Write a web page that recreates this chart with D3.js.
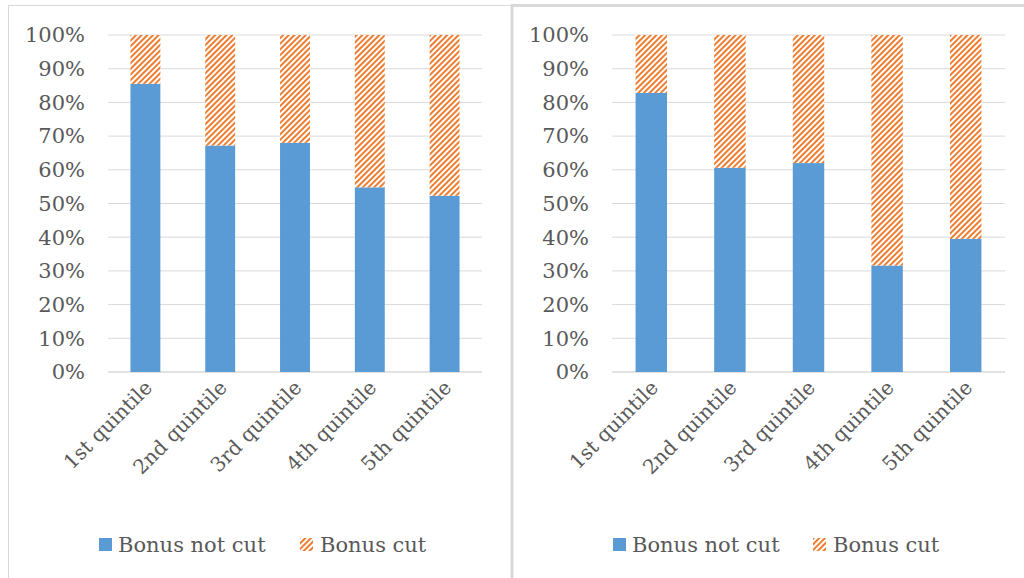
<!DOCTYPE html>
<html>
<head>
<meta charset="utf-8">
<script src="https://cdn.jsdelivr.net/npm/d3@7"></script>
<style>
  body { margin: 0; background: #fff; }
  svg text { font-family: "DejaVu Serif", serif; fill: #595959; }
</style>
</head>
<body>
<div id="chart"></div>
<script>
// categories and values (share of bonuses not cut, in %)
const quintiles = ["1st quintile", "2nd quintile", "3rd quintile", "4th quintile", "5th quintile"];
const leftNotCut = [85.5, 67.2, 68.0, 54.8, 52.3];
const rightNotCut = [82.8, 60.6, 62.0, 31.6, 39.5];
const yTicks = [0, 10, 20, 30, 40, 50, 60, 70, 80, 90, 100];
const seriesNames = ["Bonus not cut", "Bonus cut"];

const width = 1024, height = 578;
const blue = "#5b9bd5", orange = "#ed7d31";

const svg = d3.select("#chart").append("svg")
  .attr("width", width)
  .attr("height", height);

// stripe pattern for "Bonus cut"
const pat = svg.append("defs").append("pattern")
  .attr("id", "stripes")
  .attr("patternUnits", "userSpaceOnUse")
  .attr("width", 4)
  .attr("height", 4)
  .attr("patternTransform", "rotate(45)");
pat.append("rect").attr("width", 4).attr("height", 4).attr("fill", "#fff");
pat.append("rect").attr("x", 0).attr("width", 2).attr("height", 4).attr("fill", orange);

// panel frames
svg.append("rect").attr("x", 8.5).attr("y", 5.5).attr("width", 503).attr("height", 580)
  .attr("fill", "none").attr("stroke", "#d9d9d9").attr("stroke-width", 1);
svg.append("rect").attr("x", 512).attr("y", 5.5).attr("width", 520).attr("height", 580)
  .attr("fill", "none").attr("stroke", "#d9d9d9").attr("stroke-width", 3);

function drawPanel(values, box) {
  const g = svg.append("g");

  const x = d3.scaleBand().domain(quintiles).range([box.left, box.right]).paddingInner(0.6).paddingOuter(0.3);
  const y = d3.scaleLinear().domain([0, 100]).range([box.bottom, box.top]);

  // gridlines
  g.selectAll(".grid").data(yTicks).enter().append("line")
    .attr("x1", box.left).attr("x2", box.right)
    .attr("y1", d => y(d)).attr("y2", d => y(d))
    .attr("stroke", "#d9d9d9").attr("stroke-width", d => d === 0 ? 1.5 : 1);

  // y labels
  g.selectAll(".ylab").data(yTicks).enter().append("text")
    .attr("x", box.labelX).attr("y", d => y(d))
    .attr("dy", "0.35em")
    .attr("text-anchor", "end")
    .style("font-size", "21px")
    .text(d => d + "%");

  const bars = g.selectAll(".bar").data(quintiles).enter();

  bars.append("rect")
    .attr("x", d => x(d)).attr("width", x.bandwidth())
    .attr("y", (d, i) => y(values[i]))
    .attr("height", (d, i) => y(0) - y(values[i]))
    .attr("fill", blue);

  bars.append("rect")
    .attr("x", d => x(d)).attr("width", x.bandwidth())
    .attr("y", y(100))
    .attr("height", (d, i) => y(values[i]) - y(100))
    .attr("fill", "url(#stripes)");

  // rotated category labels
  g.selectAll(".xlab").data(quintiles).enter().append("text")
    .attr("transform", d => `translate(${x(d) + x.bandwidth() / 2 + 3},${box.bottom + 12}) rotate(-45)`)
    .attr("text-anchor", "end")
    .attr("dy", "0.35em")
    .style("font-size", "20px")
    .text(d => d);

  // legend
  const lg = g.append("g").attr("transform", `translate(${box.legendX},${box.legendY})`);
  lg.append("rect").attr("x", 0).attr("y", -7).attr("width", 13).attr("height", 13).attr("fill", blue);
  lg.append("text").attr("x", 19).attr("y", 0).attr("dy", "0.35em").style("font-size", "21px").text(seriesNames[0]);
  lg.append("rect").attr("x", box.legendGap).attr("y", -7).attr("width", 13).attr("height", 13).attr("fill", "url(#stripes)");
  lg.append("text").attr("x", box.legendGap + 20).attr("y", 0).attr("dy", "0.35em").style("font-size", "21px").text(seriesNames[1]);
}

drawPanel(leftNotCut, { left: 108, right: 482, top: 35, bottom: 372, labelX: 85, legendX: 99, legendY: 545, legendGap: 201 });
drawPanel(rightNotCut, { left: 612, right: 1005, top: 35, bottom: 372, labelX: 589, legendX: 613, legendY: 545, legendGap: 200 });
</script>
</body>
</html>
